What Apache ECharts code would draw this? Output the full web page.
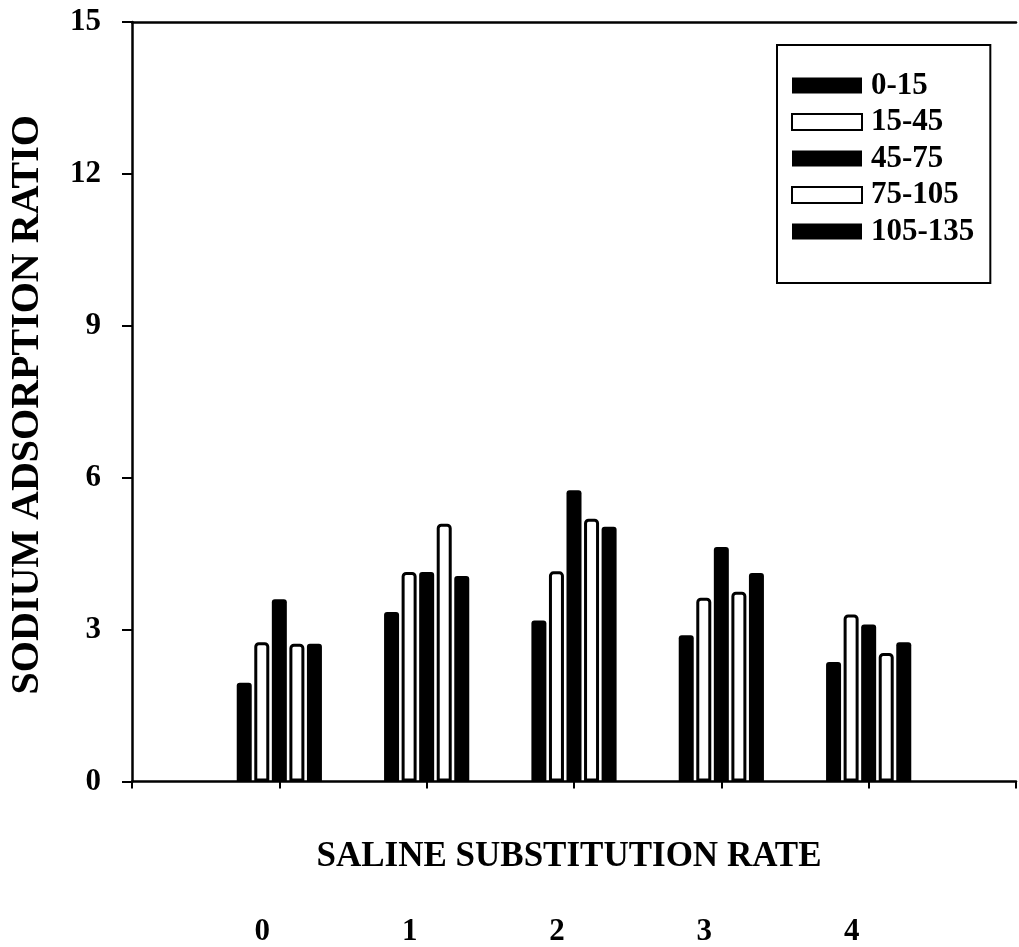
<!DOCTYPE html>
<html>
<head>
<meta charset="utf-8">
<script src="https://cdn.jsdelivr.net/npm/echarts@6/dist/echarts.min.js"></script>
<style>
  html, body { margin: 0; padding: 0; background: #fff; }
  #chart { width: 1019px; height: 947px; }
</style>
</head>
<body>
<div id="chart"></div>
<script>
// Saline substitution rates (empty slots pad the axis on both sides)
const rates = ['', '0', '1', '2', '3', '4', ''];

// Soil depth layers (cm)
const layers = ['0-15', '15-45', '45-75', '75-105', '105-135'];

// Sodium adsorption ratio per depth layer, one value per rate 0..4
const sar0to15    = [1.95, 3.35, 3.18, 2.89, 2.36];
const sar15to45   = [2.75, 4.14, 4.15, 3.63, 3.30];
const sar45to75   = [3.60, 4.14, 5.75, 4.63, 3.10];
const sar75to105  = [2.72, 5.09, 5.19, 3.75, 2.54];
const sar105to135 = [2.72, 4.06, 5.03, 4.12, 2.75];

const yTicks = { min: 0, max: 15, interval: 3 };

const layerValues = [sar0to15, sar15to45, sar45to75, sar75to105, sar105to135];
const hollow = [false, true, false, true, false];

const serif = '"Liberation Serif", "Times New Roman", serif';

const series = layers.map((name, i) => ({
  name: name,
  type: 'bar',
  barWidth: 15,
  barGap: '17%',
  data: [null].concat(layerValues[i]).concat([null]),
  itemStyle: hollow[i]
    ? { color: '#fff', borderColor: '#000', borderWidth: 3, borderRadius: [3, 3, 0, 0] }
    : { color: '#000', borderRadius: [3, 3, 0, 0] }
}));

const chart = echarts.init(document.getElementById('chart'), null, { renderer: 'canvas' });
chart.setOption({
  animation: false,
  backgroundColor: '#fff',
  grid: { left: 131, top: 22, width: 894, height: 760 },
  legend: {
    orient: 'vertical',
    left: 777, top: 45,
    padding: [25, 16, 36, 14],
    itemWidth: 70, itemHeight: 16, itemGap: 5.5,
    icon: 'rect',
    borderColor: '#000', borderWidth: 2,
    data: layers,
    textStyle: {
      fontFamily: serif, fontWeight: 'bold', fontSize: 31, color: '#000',
      padding: [0, 0, 0, 4]
    }
  },
  xAxis: [{
    type: 'category',
    data: rates,
    boundaryGap: false,
    name: 'SALINE SUBSTITUTION RATE',
    nameLocation: 'middle',
    nameGap: 75,
    nameMoveOverlap: false,
    nameTextStyle: {
      fontFamily: serif, fontWeight: 'bold', fontSize: 35, color: '#000',
      verticalAlign: 'middle', padding: [0, 10, 0, 0]
    },
    axisLine: { lineStyle: { color: '#000', width: 2.5 } },
    axisTick: { show: true, length: 7, interval: 0, lineStyle: { color: '#000', width: 2 } },
    axisLabel: {
      interval: 0, margin: 150, verticalAlign: 'middle',
      padding: [0, 34, 0, 0],
      fontFamily: serif, fontWeight: 'bold', fontSize: 31, color: '#000'
    },
    splitLine: { show: false }
  }, {
    // top frame line
    type: 'category',
    data: rates,
    boundaryGap: false,
    position: 'top',
    axisLine: { show: true, lineStyle: { color: '#000', width: 2.5 } },
    axisTick: { show: false },
    axisLabel: { show: false },
    splitLine: { show: false }
  }],
  yAxis: {
    type: 'value',
    min: yTicks.min, max: yTicks.max, interval: yTicks.interval,
    name: 'SODIUM ADSORPTION RATIO',
    nameLocation: 'middle',
    nameRotate: 90,
    nameGap: 104,
    nameMoveOverlap: false,
    nameTextStyle: {
      fontFamily: serif, fontWeight: 'bold', fontSize: 40, color: '#000',
      verticalAlign: 'middle', padding: [0, 6, 0, 0]
    },
    axisLine: { show: true, lineStyle: { color: '#000', width: 2.5 } },
    axisTick: { show: true, length: 10, lineStyle: { color: '#000', width: 2 } },
    axisLabel: {
      margin: 31,
      fontFamily: serif, fontWeight: 'bold', fontSize: 31, color: '#000'
    },
    splitLine: { show: false }
  },
  series: series
});
</script>
</body>
</html>
